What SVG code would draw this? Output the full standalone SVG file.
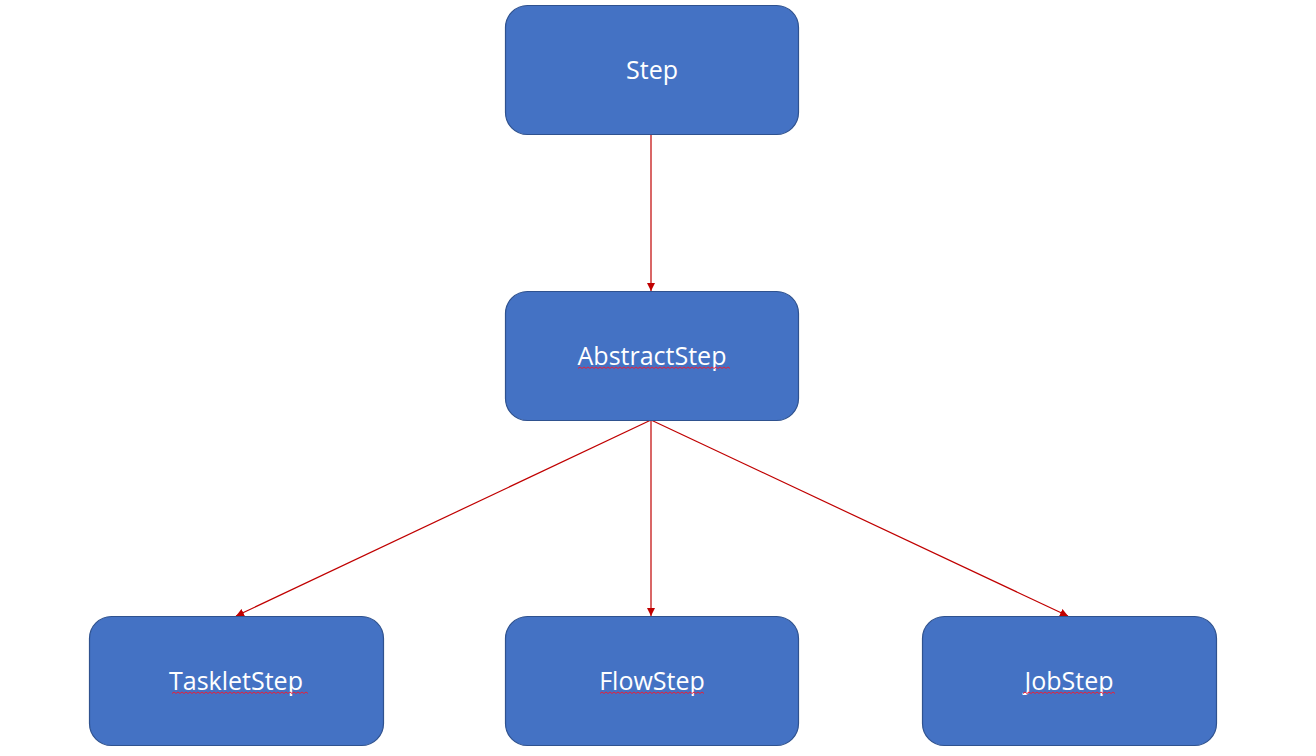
<svg xmlns="http://www.w3.org/2000/svg" width="1316" height="756" viewBox="0 0 1316 756">
<defs>
<style>
.node rect{fill:#4472C4;stroke:#2F528F;stroke-width:1.2}
.node text{fill:#FFFFFF;font-family:"Open Sans","Noto Sans","DejaVu Sans",sans-serif;font-size:25px;text-anchor:middle}
.conn line{stroke:#C00000;stroke-width:1.2;fill:none}
.squig{fill:none;stroke:#E8203A;stroke-width:1}
</style>
<marker id="arr" viewBox="0 0 10 10" refX="10" refY="5" markerWidth="8" markerHeight="8" markerUnits="userSpaceOnUse" orient="auto">
<path d="M0,0 L10,5 L0,10 Z" fill="#C00000"/>
</marker>
</defs>
<rect width="1316" height="756" fill="#FFFFFF"/>
<g id="connectors" class="conn">
<line x1="651" y1="134" x2="651" y2="291" marker-end="url(#arr)"/>
<line x1="651" y1="420" x2="236" y2="616" marker-end="url(#arr)"/>
<line x1="651" y1="420" x2="651" y2="616" marker-end="url(#arr)"/>
<line x1="651" y1="420" x2="1068" y2="616" marker-end="url(#arr)"/>
</g>
<g id="node-step" class="node">
<rect x="505.5" y="5.5" width="293" height="129" rx="22"/>
<text x="652" y="79">Step</text>
</g>
<g id="node-abstractstep" class="node">
<rect x="505.5" y="291.5" width="293" height="129" rx="22"/>
<text x="652" y="365">AbstractStep</text>
<path class="squig" d="M578,368.5 l2,-1.5 2,1.5 2,-1.5 2,1.5 2,-1.5 2,1.5 2,-1.5 2,1.5 2,-1.5 2,1.5 2,-1.5 2,1.5 2,-1.5 2,1.5 2,-1.5 2,1.5 2,-1.5 2,1.5 2,-1.5 2,1.5 2,-1.5 2,1.5 2,-1.5 2,1.5 2,-1.5 2,1.5 2,-1.5 2,1.5 2,-1.5 2,1.5 2,-1.5 2,1.5 2,-1.5 2,1.5 2,-1.5 2,1.5 2,-1.5 2,1.5 2,-1.5 2,1.5 2,-1.5 2,1.5 2,-1.5 2,1.5 2,-1.5 2,1.5 2,-1.5 2,1.5 2,-1.5 2,1.5 2,-1.5 2,1.5 2,-1.5 2,1.5 2,-1.5 2,1.5 2,-1.5 2,1.5 2,-1.5 2,1.5 2,-1.5 2,1.5 2,-1.5 2,1.5 2,-1.5 2,1.5 2,-1.5 2,1.5 2,-1.5 2,1.5 2,-1.5 2,1.5 2,-1.5 2,1.5 2,-1.5 2,1.5"/>
</g>
<g id="node-taskletstep" class="node">
<rect x="89.5" y="616.5" width="294" height="129" rx="22"/>
<text x="236" y="690">TaskletStep</text>
<path class="squig" d="M172,693.5 l2,-1.5 2,1.5 2,-1.5 2,1.5 2,-1.5 2,1.5 2,-1.5 2,1.5 2,-1.5 2,1.5 2,-1.5 2,1.5 2,-1.5 2,1.5 2,-1.5 2,1.5 2,-1.5 2,1.5 2,-1.5 2,1.5 2,-1.5 2,1.5 2,-1.5 2,1.5 2,-1.5 2,1.5 2,-1.5 2,1.5 2,-1.5 2,1.5 2,-1.5 2,1.5 2,-1.5 2,1.5 2,-1.5 2,1.5 2,-1.5 2,1.5 2,-1.5 2,1.5 2,-1.5 2,1.5 2,-1.5 2,1.5 2,-1.5 2,1.5 2,-1.5 2,1.5 2,-1.5 2,1.5 2,-1.5 2,1.5 2,-1.5 2,1.5 2,-1.5 2,1.5 2,-1.5 2,1.5 2,-1.5 2,1.5 2,-1.5 2,1.5 2,-1.5 2,1.5 2,-1.5 2,1.5 2,-1.5 2,1.5"/>
</g>
<g id="node-flowstep" class="node">
<rect x="505.5" y="616.5" width="293" height="129" rx="22"/>
<text x="652" y="690">FlowStep</text>
<path class="squig" d="M600,693.5 l2,-1.5 2,1.5 2,-1.5 2,1.5 2,-1.5 2,1.5 2,-1.5 2,1.5 2,-1.5 2,1.5 2,-1.5 2,1.5 2,-1.5 2,1.5 2,-1.5 2,1.5 2,-1.5 2,1.5 2,-1.5 2,1.5 2,-1.5 2,1.5 2,-1.5 2,1.5 2,-1.5 2,1.5 2,-1.5 2,1.5 2,-1.5 2,1.5 2,-1.5 2,1.5 2,-1.5 2,1.5 2,-1.5 2,1.5 2,-1.5 2,1.5 2,-1.5 2,1.5 2,-1.5 2,1.5 2,-1.5 2,1.5 2,-1.5 2,1.5 2,-1.5 2,1.5 2,-1.5 2,1.5 2,-1.5 2,1.5"/>
</g>
<g id="node-jobstep" class="node">
<rect x="922.5" y="616.5" width="294" height="129" rx="22"/>
<text x="1069" y="690">JobStep</text>
<path class="squig" d="M1023,693.5 l2,-1.5 2,1.5 2,-1.5 2,1.5 2,-1.5 2,1.5 2,-1.5 2,1.5 2,-1.5 2,1.5 2,-1.5 2,1.5 2,-1.5 2,1.5 2,-1.5 2,1.5 2,-1.5 2,1.5 2,-1.5 2,1.5 2,-1.5 2,1.5 2,-1.5 2,1.5 2,-1.5 2,1.5 2,-1.5 2,1.5 2,-1.5 2,1.5 2,-1.5 2,1.5 2,-1.5 2,1.5 2,-1.5 2,1.5 2,-1.5 2,1.5 2,-1.5 2,1.5 2,-1.5 2,1.5 2,-1.5 2,1.5 2,-1.5 2,1.5"/>
</g>
</svg>
